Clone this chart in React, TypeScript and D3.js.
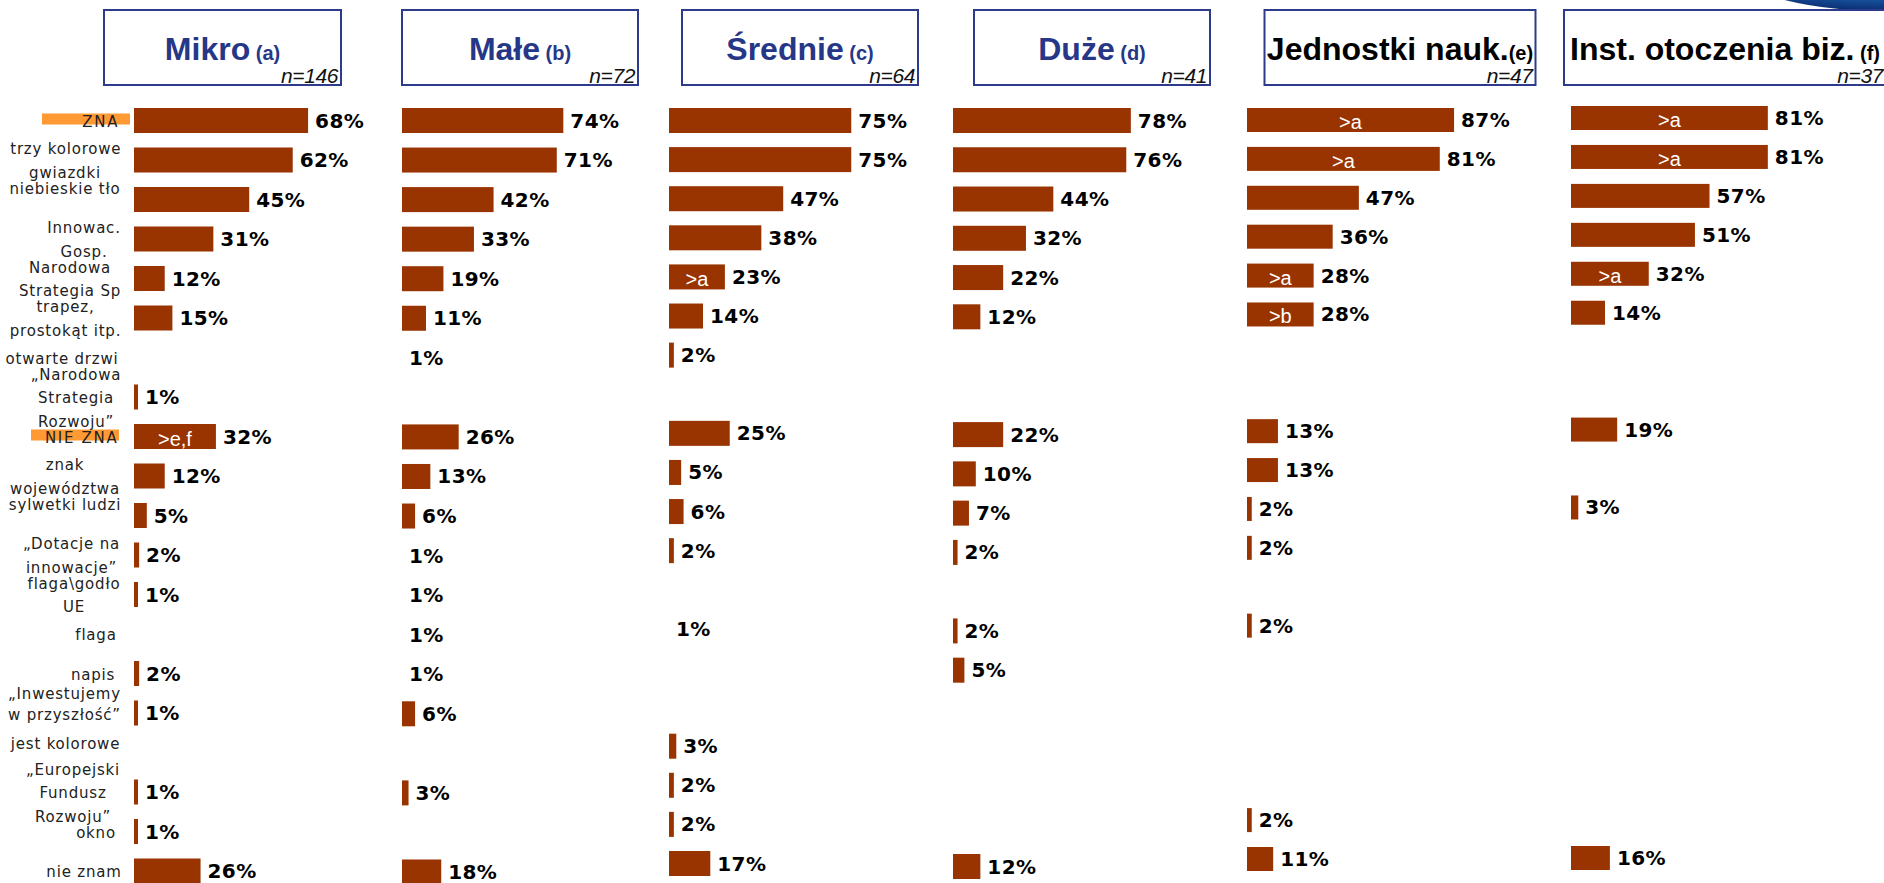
import React from 'react';
import * as d3 from 'd3';

// ---------- DATA ----------
const CATEGORIES = [
  'ZNA',
  'trzy kolorowe',
  'gwiazdki\nniebieskie tło',
  'Innowac.\nGosp.',
  'Narodowa\nStrategia Sp',
  'trapez,\nprostokąt itp.',
  'otwarte drzwi',
  '„Narodowa\nStrategia\nRozwoju”',
  'NIE ZNA',
  'znak\nwojewództwa',
  'sylwetki ludzi',
  '„Dotacje na\ninnowacje”',
  'flaga\\godło\nUE',
  'flaga',
  'napis',
  '„Inwestujemy\nw przyszłość”',
  'jest kolorowe',
  '„Europejski\nFundusz\nRozwoju”',
  'okno',
  'nie znam',
];

const GROUP_NAMES = ['Mikro', 'Małe', 'Średnie', 'Duże', 'Jednostki nauk.', 'Inst. otoczenia biz.'];
const GROUP_TAGS = [' (a)', ' (b)', ' (c)', ' (d)', '(e)', ' (f)'];
const GROUP_N = [146, 72, 64, 41, 47, 37];

const MIKRO = [68, 62, 45, 31, 12, 15, null, 1, 32, 12, 5, 2, 1, null, 2, 1, null, 1, 1, 26];
const MALE = [74, 71, 42, 33, 19, 11, 1, null, 26, 13, 6, 1, 1, 1, 1, 6, null, 3, null, 18];
const SREDNIE = [75, 75, 47, 38, 23, 14, 2, null, 25, 5, 6, 2, null, 1, null, null, 3, 2, 2, 17];
const DUZE = [78, 76, 44, 32, 22, 12, null, null, 22, 10, 7, 2, null, 2, 5, null, null, null, null, 12];
const JEDNOSTKI = [87, 81, 47, 36, 28, 28, null, null, 13, 13, 2, 2, null, 2, null, null, null, null, 2, 11];
const INST = [81, 81, 57, 51, 32, 14, null, null, 19, null, 3, null, null, null, null, null, null, null, null, 16];

// significance notes written inside bars: [row, text]
const MIKRO_NOTES: [number, string][] = [[8, '>e,f']];
const MALE_NOTES: [number, string][] = [];
const SREDNIE_NOTES: [number, string][] = [[4, '>a']];
const DUZE_NOTES: [number, string][] = [];
const JEDNOSTKI_NOTES: [number, string][] = [[0, '>a'], [1, '>a'], [4, '>a'], [5, '>b']];
const INST_NOTES: [number, string][] = [[0, '>a'], [1, '>a'], [4, '>a']];

// rows shown only as a number, without a bar
const MALE_TEXT_ONLY = [6, 11, 12, 13, 14];
const SREDNIE_TEXT_ONLY = [13];

// ---------- LAYOUT ----------
const W = 1884;
const H = 883;
const BAR = '#993300';
const BLUE = '#263787';
const BOX = '#2E3A8C';

const SERIES = [MIKRO, MALE, SREDNIE, DUZE, JEDNOSTKI, INST];
const NOTES = [MIKRO_NOTES, MALE_NOTES, SREDNIE_NOTES, DUZE_NOTES, JEDNOSTKI_NOTES, INST_NOTES];
const TEXT_ONLY = [[], MALE_TEXT_ONLY, SREDNIE_TEXT_ONLY, [], [], []];

const PANEL_LAYOUT = [
  { x0: 134, x100: 390, y0: 120.5, y1: 871, bh: 25, boxX: 104, boxW: 237, color: BLUE },
  { x0: 402, x100: 620, y0: 120.5, y1: 872, bh: 25, boxX: 402, boxW: 236, color: BLUE },
  { x0: 669, x100: 912, y0: 120.5, y1: 863.5, bh: 25, boxX: 682, boxW: 236, color: BLUE },
  { x0: 953, x100: 1181, y0: 120.5, y1: 866.5, bh: 25, boxX: 974, boxW: 236, color: BLUE },
  { x0: 1247, x100: 1485, y0: 120, y1: 859, bh: 24, boxX: 1264.5, boxW: 271, color: '#000' },
  { x0: 1571, x100: 1814, y0: 118, y1: 858, bh: 24, boxX: 1564, boxW: 322, color: '#000' },
];

const LABEL_CX = [100.7, 65.8, 65, 84, 70, 65.5, 62, 76, 81.7, 65, 65, 71.5, 74, 96, 93, 64.5, 65.5, 73, 96, 84];
const LABEL_SHIFT: Record<number, number> = { 1: -12, 2: -19.5, 10: -12, 15: -10, 16: -10 };
const LABEL_LH: Record<number, number> = { 2: 16, 15: 21 };
const LABEL_LS: Record<number, number> = { 0: 1.7, 8: 1.7 };
const HIGHLIGHTS = [
  { row: 0, x: 42, w: 88 },
  { row: 8, x: 31, w: 88 },
];

const rowIdx = CATEGORIES.map((_, i) => i);

function Panel({ p }: { p: number }) {
  const L = PANEL_LAYOUT[p];
  const values = SERIES[p];
  const x = d3.scaleLinear().domain([0, 100]).range([L.x0, L.x100]);
  const y = d3.scalePoint<number>().domain(rowIdx).range([L.y0, L.y1]);
  const hidden = new Set(TEXT_ONLY[p]);
  const notes = new Map(NOTES[p]);
  const cx = L.boxX + L.boxW / 2;
  return (
    <g>
      <rect x={L.boxX} y={10} width={L.boxW} height={75} fill="#fff" stroke={BOX} strokeWidth={2} />
      <text x={cx} y={60} textAnchor="middle" fontFamily="'Liberation Sans', Arial, sans-serif" fontWeight="bold" fill={L.color}>
        <tspan fontSize={32}>{GROUP_NAMES[p]}</tspan>
        <tspan fontSize={20}>{GROUP_TAGS[p]}</tspan>
      </text>
      <text x={L.boxX + L.boxW - 3} y={83} textAnchor="end" fontFamily="'Liberation Sans', Arial, sans-serif" fontStyle="italic" fontSize={21} letterSpacing={-0.4} fill="#111">
        {`n=${GROUP_N[p]}`}
      </text>
      {values.map((v, i) => {
        if (v == null) return null;
        const yc = y(i) as number;
        const showBar = !hidden.has(i);
        const w = showBar ? Math.max(4, x(v) - x(0)) : 0;
        const note = notes.get(i);
        return (
          <g key={i}>
            {showBar && <rect x={x(0)} y={yc - L.bh / 2} width={w} height={L.bh} fill={BAR} />}
            {note && (
              <text x={x(0) + w / 2} y={yc + 9} textAnchor="middle" fontFamily="'Liberation Sans', Arial, sans-serif" fontSize={20} fill="#fff">
                {note}
              </text>
            )}
            <text x={x(0) + w + 7} y={yc + 7} fontFamily="'DejaVu Sans', Verdana, sans-serif" fontWeight="bold" fontSize={20} letterSpacing={0.4} fill="#000">
              {`${v}%`}
            </text>
          </g>
        );
      })}
    </g>
  );
}

function Labels() {
  const L = PANEL_LAYOUT[0];
  const y = d3.scalePoint<number>().domain(rowIdx).range([L.y0, L.y1]);
  return (
    <g fontFamily="'DejaVu Sans', Verdana, sans-serif" fontSize={15} fill="#222">
      {HIGHLIGHTS.map((h) => {
        const lines = CATEGORIES[h.row].split('\n');
        const lh = LABEL_LH[h.row] ?? 23.5;
        const base = (y(h.row) as number) + 6 - ((lines.length - 1) * lh) / 2 + (LABEL_SHIFT[h.row] ?? 0);
        return <rect key={h.row} x={h.x} y={base - 13} width={h.w} height={11} fill="#FF9933" />;
      })}
      {CATEGORIES.map((c, i) => {
        const lines = c.split('\n');
        const lh = LABEL_LH[i] ?? 23.5;
        const base = (y(i) as number) + 6 - ((lines.length - 1) * lh) / 2 + (LABEL_SHIFT[i] ?? 0);
        return (
          <text key={i} textAnchor="middle" letterSpacing={LABEL_LS[i] ?? 0.8}>
            {lines.map((ln, j) => (
              <tspan key={j} x={LABEL_CX[i]} y={base + j * lh}>
                {ln}
              </tspan>
            ))}
          </text>
        );
      })}
    </g>
  );
}

export default function App() {
  return (
    <svg width={W} height={H} viewBox={`0 0 ${W} ${H}`} style={{ position: 'absolute', left: 0, top: 0, background: '#fff' }}>
      <defs>
        <radialGradient id="logoGrad" cx="0.45" cy="0.35" r="0.65">
          <stop offset="0" stopColor="#46b6f0" />
          <stop offset="0.55" stopColor="#1f78c8" />
          <stop offset="1" stopColor="#0b2a6e" />
        </radialGradient>
      </defs>
      <rect x={0} y={0} width={W} height={H} fill="#fff" />
      <ellipse cx={1900} cy={-30} rx={165} ry={42} fill="url(#logoGrad)" />
      <Labels />
      {PANEL_LAYOUT.map((_, p) => (
        <Panel key={p} p={p} />
      ))}
    </svg>
  );
}
